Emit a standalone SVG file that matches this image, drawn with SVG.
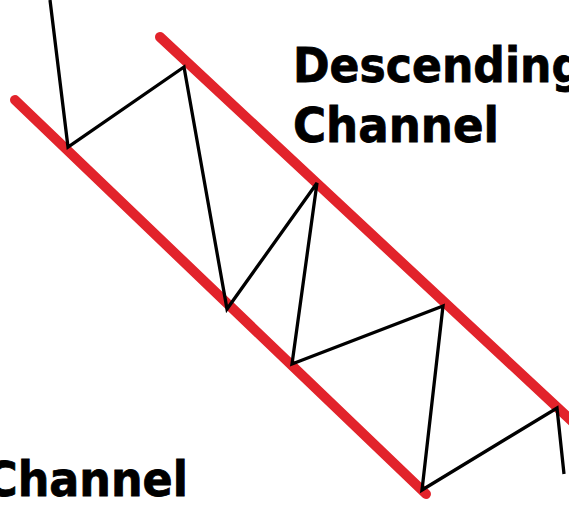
<svg xmlns="http://www.w3.org/2000/svg" width="569" height="505" viewBox="0 0 569 505">
<style>
.red{stroke:#e2232b;stroke-width:10;stroke-linecap:round;fill:none}
.zig{stroke:#000;stroke-width:3.3;fill:none;stroke-linejoin:miter;stroke-linecap:butt}
.lbl{font-family:"DejaVu Sans",Verdana,sans-serif;font-weight:bold;font-size:48px;fill:#000;stroke:#000;stroke-width:0.8}
</style>
<rect width="569" height="505" fill="#fff"/>
<g id="channel-lines">
<line id="lower-line" class="red" x1="15" y1="100" x2="426" y2="494"/>
<line id="upper-line" class="red" x1="160" y1="37" x2="575" y2="424"/>
</g>
<g id="connectors">
<polyline class="zig" points="50,0 68,147 184,67 227,309 317,183 292,364 443,306 422,490 557,408 564,474"/>
</g>
<g id="label-descending">
<text class="lbl" x="293" y="82" textLength="290" lengthAdjust="spacingAndGlyphs">Descending</text>
<text class="lbl" x="293" y="142" textLength="206" lengthAdjust="spacingAndGlyphs">Channel</text>
</g>
<g id="label-channel">
<text class="lbl" x="-15" y="496" textLength="203" lengthAdjust="spacingAndGlyphs">Channel</text>
</g>
</svg>
